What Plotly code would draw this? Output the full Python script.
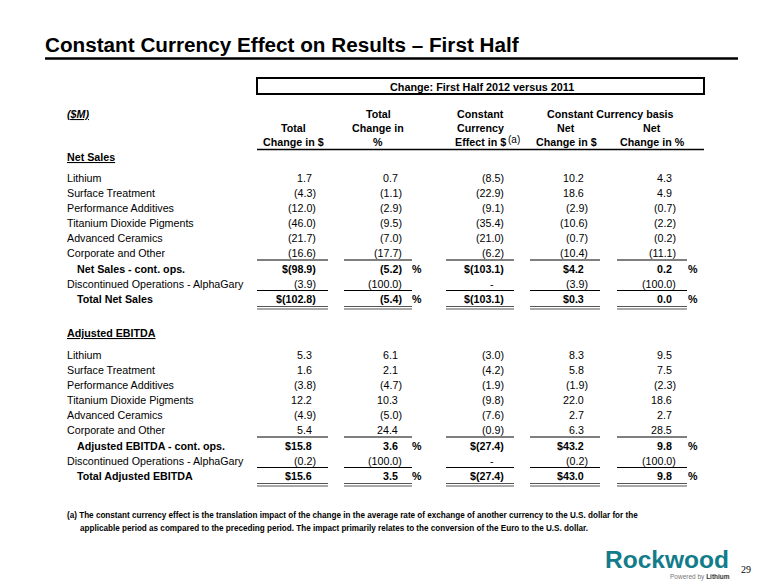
import plotly.graph_objects as go

W, H = 780, 585

# ---------------- data ----------------
title = "Constant Currency Effect on Results – First Half"
period_label = "Change: First Half 2012 versus 2011"
unit_label = "($M)"
group_header = "Constant Currency basis"
col_headers = [
    ["Total", "Change in $"],
    ["Total", "Change in", "%"],
    ["Constant", "Currency", "Effect in $"],
    ["Net", "Change in $"],
    ["Net", "Change in %"],
]
col_is_dollar = [True, False, True, True, False]

net_sales_heading = "Net Sales"
ebitda_heading = "Adjusted EBITDA"
segments = ["Lithium", "Surface Treatment", "Performance Additives",
            "Titanium Dioxide Pigments", "Advanced Ceramics", "Corporate and Other"]
net_sales_labels = segments + ["Net Sales - cont. ops.",
                               "Discontinued Operations - AlphaGary", "Total Net Sales"]
ebitda_labels = segments + ["Adjusted EBITDA - cont. ops.",
                            "Discontinued Operations - AlphaGary", "Total Adjusted EBITDA"]

ns_total_change_usd = [1.7, -4.3, -12.0, -46.0, -21.7, -16.6, -98.9, -3.9, -102.8]
ns_total_change_pct = [0.7, -1.1, -2.9, -9.5, -7.0, -17.7, -5.2, -100.0, -5.4]
ns_fx_effect_usd = [-8.5, -22.9, -9.1, -35.4, -21.0, -6.2, -103.1, None, -103.1]
ns_cc_net_change_usd = [10.2, 18.6, -2.9, -10.6, -0.7, -10.4, 4.2, -3.9, 0.3]
ns_cc_net_change_pct = [4.3, 4.9, -0.7, -2.2, -0.2, -11.1, 0.2, -100.0, 0.0]

eb_total_change_usd = [5.3, 1.6, -3.8, 12.2, -4.9, 5.4, 15.8, -0.2, 15.6]
eb_total_change_pct = [6.1, 2.1, -4.7, 10.3, -5.0, 24.4, 3.6, -100.0, 3.5]
eb_fx_effect_usd = [-3.0, -4.2, -1.9, -9.8, -7.6, -0.9, -27.4, None, -27.4]
eb_cc_net_change_usd = [8.3, 5.8, -1.9, 22.0, 2.7, 6.3, 43.2, -0.2, 43.0]
eb_cc_net_change_pct = [9.5, 7.5, -2.3, 18.6, 2.7, 28.5, 9.8, -100.0, 9.8]

bold_rows = [6, 8]
footnote = ["(a) The constant currency effect is the translation impact of the change in the average rate of exchange of another currency to the U.S. dollar for the",
            "applicable period as compared to the preceding period. The impact primarily relates to the conversion of the Euro to the U.S. dollar."]
logo_name = "Rockwood"
logo_tag = ["Powered by ", "Lithium"]
page_number = "29"

# ---------------- layout helpers ----------------
FONT = "Liberation Sans, Arial, sans-serif"
FS = 10.7

col_right = [316, 402, 504, 588, 676]
col_center = [293, 378, 480, 566, 652]
col_line = [(257, 328), (344, 412), (446, 514), (530, 600), (617, 687)]
pct_sign_x = {1: 417, 4: 693}
row_offsets = [0, 15, 30, 45, 60, 75, 90.5, 106, 120.5]

annotations = []
shapes = []


def text(x, y, s, size=FS, bold=False, anchor="left", color="black", family=FONT, italic=False):
    if bold:
        s = "<b>" + s + "</b>"
    if italic:
        s = "<i>" + s + "</i>"
    annotations.append(dict(x=x, y=y, xref="x", yref="y", text=s, showarrow=False,
                            xanchor=anchor, yanchor="middle", borderpad=0, borderwidth=0,
                            font=dict(size=size, color=color, family=family)))


def hline(x0, x1, y, width=1.2, color="black"):
    shapes.append(dict(type="line", xref="x", yref="y", x0=x0, x1=x1, y0=y, y1=y,
                       line=dict(color=color, width=width)))


def fmt(v, dollar):
    if v is None:
        return "-"
    s = f"{abs(v):.1f}"
    if v < 0:
        s = "(" + s + ")"
    if dollar:
        s = "$" + s
    return s


# title
text(45, 44, title, size=20.7, bold=True)
hline(45, 738, 58.5, width=2.6)

# period box
shapes.append(dict(type="rect", xref="x", yref="y", x0=257, x1=704, y0=78, y1=94,
                   line=dict(color="black", width=2), fillcolor="white"))
text(482, 86.5, period_label, size=10.8, bold=True, anchor="center")

# column headers
text(67, 114, '<span style="text-decoration:underline">' + unit_label + '</span>',
     bold=True, italic=True)
text(610, 114, group_header, bold=True, anchor="center")
header_rows_y = [114, 128, 142]
for ci, lines in enumerate(col_headers):
    start = 3 - len(lines)
    for li, ln in enumerate(lines):
        text(col_center[ci], header_rows_y[start + li], ln, bold=True, anchor="center")
text(508, 139, "(a)", size=10, anchor="left")
hline(257, 704, 149.5, width=1.5)


def section(heading, heading_y, labels, columns, base):
    text(67, heading_y, '<span style="text-decoration:underline">' + heading + '</span>', bold=True)
    for ri, lab in enumerate(labels):
        y = base + row_offsets[ri]
        b = ri in bold_rows
        text(77 if b else 67, y, lab, bold=b)
        for ci, vals in enumerate(columns):
            v = vals[ri]
            s = fmt(v, col_is_dollar[ci] and b)
            if v is None:
                text(492, y, s, bold=b, anchor="center")
            else:
                x = col_right[ci] if s.endswith(")") else col_right[ci] - 4
                text(x, y, s, bold=b, anchor="right")
            if b and ci in pct_sign_x:
                text(pct_sign_x[ci], y, "%", bold=True, anchor="center")
    for (x0, x1) in col_line:
        hline(x0, x1, base + 82, width=1.2)
        hline(x0, x1, base + 112.5, width=1.2)
        hline(x0, x1, base + 128.5, width=1.1, color="#555555")
        hline(x0, x1, base + 131, width=1.1, color="#555555")


section(net_sales_heading, 157, net_sales_labels,
        [ns_total_change_usd, ns_total_change_pct, ns_fx_effect_usd,
         ns_cc_net_change_usd, ns_cc_net_change_pct], 178)
section(ebitda_heading, 333, ebitda_labels,
        [eb_total_change_usd, eb_total_change_pct, eb_fx_effect_usd,
         eb_cc_net_change_usd, eb_cc_net_change_pct], 355)

# footnote
text(67, 515, footnote[0], size=8.15, bold=True)
text(80, 528, footnote[1], size=8.15, bold=True)

# logo
text(667, 559, logo_name, size=24.5, bold=True, color="#127c8a", anchor="center")
text(730, 577, '<span style="color:#777777">' + logo_tag[0] + '</span><b>' + logo_tag[1] + '</b>',
     size=6.5, anchor="right", color="#333333")
text(746, 569, page_number, size=10, anchor="center", family="Liberation Serif, serif")

fig = go.Figure()
fig.update_layout(
    width=W, height=H, margin=dict(l=0, r=0, t=0, b=0),
    paper_bgcolor="white", plot_bgcolor="white",
    xaxis=dict(range=[0, W], visible=False, fixedrange=True),
    yaxis=dict(range=[H, 0], visible=False, fixedrange=True),
    annotations=annotations, shapes=shapes, showlegend=False,
)
fig.write_html("out.html", config={"displayModeBar": False, "staticPlot": True},
               post_script="document.body.style.margin='0';")
